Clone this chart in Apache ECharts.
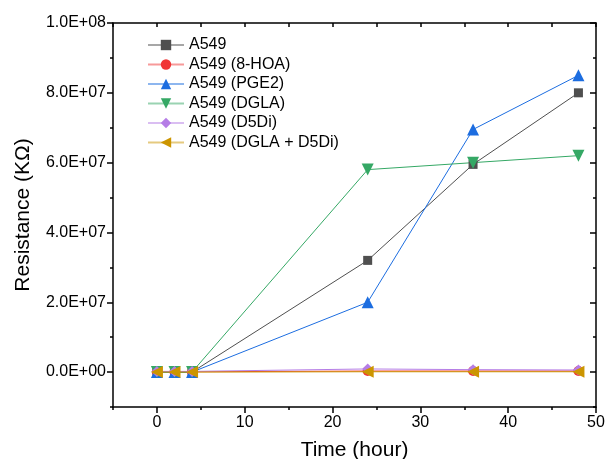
<!DOCTYPE html>
<html>
<head>
<meta charset="utf-8">
<script src="https://cdn.jsdelivr.net/npm/echarts@6/dist/echarts.min.js"></script>
<style>
  html, body { margin: 0; padding: 0; background: #fff; }
  #chart { width: 606px; height: 459px; }
</style>
</head>
<body>
<div id="chart"></div>
<script>
  // hours
  const hours = [0, 2, 4, 24, 36, 48];

  const a549 = [0, 0, 0, 3.2e7, 5.95e7, 8.0e7];
  const a549Hoa = [1e5, 1e5, 1e5, 3e5, 3e5, 3e5];
  const a549Pge2 = [0, 0, 0, 2.0e7, 6.95e7, 8.5e7];
  const a549Dgla = [0, 0, 0, 5.8e7, 6.0e7, 6.2e7];
  const a549D5di = [2e5, 2e5, 2e5, 9e5, 7e5, 6e5];
  const a549DglaD5di = [0, 0, 0, 1e5, 1e5, 1e5];

  const xMajor = [0, 10, 20, 30, 40, 50];
  const yMajor = [0, 2e7, 4e7, 6e7, 8e7, 1e8];

  const downTri = 'path://M0,0 L10,0 L5,9 Z';
  const leftTri = 'path://M0,5 L9,0 L9,10 Z';

  const fmtSci = (v) => {
    if (v === 0) return '0.0E+00';
    const [m, e] = v.toExponential(1).split('e');
    const n = Math.abs(parseInt(e, 10));
    return m + 'E' + (e[0] === '-' ? '-' : '+') + (n < 10 ? '0' + n : n);
  };

  const font = '"Liberation Sans", Arial, sans-serif';
  const black = '#000';

  function makeSeries(name, values, color, symbol, size) {
    return {
      name: name,
      type: 'line',
      data: hours.map((h, i) => [h, values[i]]),
      symbol: symbol,
      symbolSize: size,
      lineStyle: { color: color, width: 1 },
      itemStyle: { color: color },
      emphasis: { disabled: true },
      animation: false,
    };
  }

  const chart = echarts.init(document.getElementById('chart'));

  // extra axes used only for the small ticks / mirrored frame
  const tickAxis = (pos, inside, len, interval) => ({
    type: 'value',
    position: pos,
    min: pos === 'left' || pos === 'right' ? -1e7 : -5,
    max: pos === 'left' || pos === 'right' ? 1e8 : 50,
    interval: interval,
    axisLine: { show: false, onZero: false },
    axisTick: { show: true, inside: inside, length: len, lineStyle: { color: black, width: 1.5 } },
    axisLabel: { show: false },
    splitLine: { show: false },
  });

  const frameLine = { show: true, onZero: false, lineStyle: { color: black, width: 1.5 } };

  chart.setOption({
    animation: false,
    textStyle: { fontFamily: font },
    grid: { left: 113, right: 10, top: 23, bottom: 52, containLabel: false, outerBoundsMode: 'none' },
    legend: {
      orient: 'vertical',
      left: 147,
      top: 37,
      padding: 0,
      itemWidth: 36,
      itemHeight: 13,
      itemGap: 3.5,
      textStyle: { fontSize: 16, color: black, fontFamily: font },
      lineStyle: { opacity: 0.5 },
      data: ['A549', 'A549 (8-HOA)', 'A549 (PGE2)', 'A549 (DGLA)', 'A549 (D5Di)', 'A549 (DGLA + D5Di)'],
    },
    xAxis: [
      {
        type: 'value',
        position: 'bottom',
        min: -5,
        max: 50,
        interval: 5,
        name: 'Time (hour)',
        nameLocation: 'middle',
        nameGap: 33,
        nameTextStyle: { fontSize: 21, color: black, fontFamily: font },
        axisLine: frameLine,
        axisTick: { show: true, length: 6, customValues: xMajor, lineStyle: { color: black, width: 1.5 } },
        axisLabel: { customValues: xMajor, fontSize: 16, color: black, margin: 8, fontFamily: font },
        splitLine: { show: false },
      },
      tickAxis('bottom', false, 3, 5),
      Object.assign(tickAxis('top', true, 4, 5), { axisLine: frameLine }),
    ],
    yAxis: [
      {
        type: 'value',
        position: 'left',
        min: -1e7,
        max: 1e8,
        interval: 1e7,
        name: 'Resistance (KΩ)',
        nameLocation: 'middle',
        nameGap: 79,
        nameTextStyle: { fontSize: 21, color: black, fontFamily: font },
        axisLine: frameLine,
        axisTick: { show: true, length: 6, customValues: yMajor, lineStyle: { color: black, width: 1.5 } },
        axisLabel: { customValues: yMajor, formatter: fmtSci, fontSize: 16, color: black, margin: 7, fontFamily: font },
        splitLine: { show: false },
      },
      tickAxis('left', false, 3, 1e7),
      Object.assign(tickAxis('right', true, 3, 1e7), { axisLine: frameLine }),
      Object.assign(tickAxis('right', true, 6, 1e7), {
        axisTick: { show: true, inside: true, length: 6, customValues: yMajor, lineStyle: { color: black, width: 1.5 } },
      }),
    ],
    series: [
      makeSeries('A549', a549, '#4f4f4f', 'rect', 9),
      makeSeries('A549 (8-HOA)', a549Hoa, '#f03535', 'circle', 10),
      makeSeries('A549 (PGE2)', a549Pge2, '#1c6de0', 'triangle', 12),
      makeSeries('A549 (DGLA)', a549Dgla, '#35a865', downTri, 12),
      makeSeries('A549 (D5Di)', a549D5di, '#b57de6', 'diamond', 11),
      makeSeries('A549 (DGLA + D5Di)', a549DglaD5di, '#cc9500', leftTri, 12),
    ],
  });
</script>
</body>
</html>
